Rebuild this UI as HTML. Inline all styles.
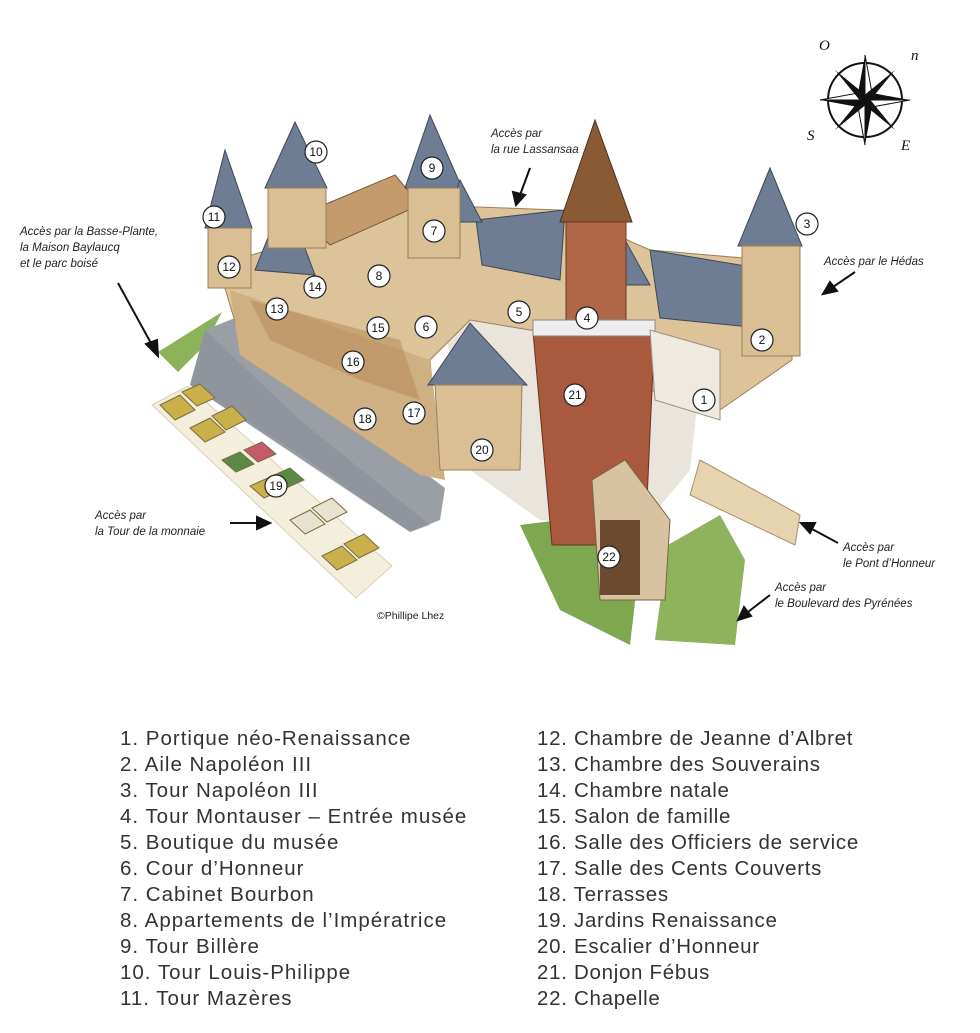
<!DOCTYPE html>
<html><head><meta charset="utf-8">
<style>
html,body{margin:0;padding:0;background:#fff;}
body{width:980px;height:1033px;position:relative;overflow:hidden;font-family:"Liberation Sans","DejaVu Sans",sans-serif;}
.leg{position:absolute;font-size:20.5px;color:#333;line-height:26px;letter-spacing:1px}
.lab{font-style:italic;font-size:11.5px;fill:#222;}
</style></head><body>
<svg width="980" height="700" style="position:absolute;left:0;top:0" xmlns="http://www.w3.org/2000/svg">
<polygon points="158,352 222,312 205,345 178,372" fill="#8db35a"/>
<polygon points="205,330 235,318 300,380 445,488 440,520 410,532 190,385" fill="#9a9fa6"/>
<polygon points="205,330 190,385 300,455 410,532 430,525 300,420" fill="#8b9097" opacity="0.6"/>
<polygon points="152,405 188,386 392,566 356,598" fill="#f4eedc" stroke="#d8cfb5"/>
<g fill="#c9b04a" stroke="#7a6d40" stroke-width="1">
<polygon points="160,405 180,395 195,410 175,420"/><polygon points="182,392 200,384 215,398 197,406"/>
<polygon points="190,428 210,418 225,432 205,442"/><polygon points="212,416 232,406 246,420 226,430"/>
<polygon points="222,460 240,452 254,464 236,472" fill="#5a8a45"/><polygon points="244,450 262,442 276,454 258,462" fill="#c45a6a"/>
<polygon points="250,486 268,478 282,490 264,498"/><polygon points="272,476 290,468 304,480 286,488" fill="#5a8a45"/>
<polygon points="290,520 310,510 325,524 305,534" fill="#e8e2d0"/><polygon points="312,508 332,498 347,512 327,522" fill="#e8e2d0"/>
<polygon points="322,556 342,546 357,560 337,570"/><polygon points="344,544 364,534 379,548 359,558"/>
</g>
<polygon points="700,460 800,515 795,545 690,495" fill="#e6d3b0" stroke="#a89070"/>
<polygon points="668,545 720,515 745,560 735,645 655,640" fill="#8fb25c"/>
<polygon points="520,525 560,520 640,560 630,645 560,610" fill="#7fa750"/>
<polygon points="440,300 560,300 700,380 690,470 640,530 540,520 470,470" fill="#e9e4dc"/>
<polygon points="218,265 420,205 560,210 650,250 790,262 792,360 720,410 650,390 560,335 470,320 430,360 440,470 360,420 245,355" fill="#dcc39a" stroke="#9c7f55"/>
<polygon points="230,290 430,360 445,480 420,475 240,355" fill="#cfb083"/>
<polygon points="250,300 400,340 420,400 360,380 270,340" fill="#b98e5e" opacity="0.6"/>
<polygon points="300,215 395,175 420,205 330,245" fill="#c49b6c" stroke="#7a5a3a"/>
<g fill="#6e7d93" stroke="#3f4857">
<polygon points="476,220 565,210 560,280 482,265"/>
<polygon points="650,250 770,270 780,330 660,318"/>
<polygon points="295,122 265,188 327,188"/>
<polygon points="225,150 205,228 252,228"/>
<polygon points="430,115 405,188 462,188"/>
<polygon points="460,180 445,222 482,222"/>
<polygon points="770,168 738,246 802,246"/>
<polygon points="285,195 255,270 315,275"/>
<polygon points="470,323 428,385 527,385"/>
<polygon points="625,240 650,285 600,285"/>
</g>
<g fill="#d9bf93" stroke="#9c7f55">
<rect x="268" y="188" width="58" height="60"/><rect x="208" y="228" width="43" height="60"/>
<rect x="408" y="188" width="52" height="70"/><rect x="742" y="246" width="58" height="110"/>
<polygon points="435,385 522,385 520,470 440,470"/>
</g>
<polygon points="595,120 560,222 632,222" fill="#8a5a35" stroke="#4a3020"/>
<rect x="566" y="222" width="60" height="105" fill="#b06748" stroke="#6a3a25"/>
<polygon points="533,332 655,322 645,545 552,545" fill="#a9593d" stroke="#6a3320"/>
<rect x="533" y="320" width="122" height="16" fill="#eee" stroke="#888"/>
<polygon points="592,480 625,460 670,520 665,600 600,600" fill="#d7c3a2" stroke="#7a6446"/>
<rect x="600" y="520" width="40" height="75" fill="#6b4a30"/>
<polygon points="650,330 720,350 720,420 655,400" fill="#efe9df" stroke="#9a9080"/>
<g font-size="12" text-anchor="middle" font-family="Liberation Sans,sans-serif" fill="#111">
<g fill="#fff" stroke="#222" stroke-width="1.2">
<circle cx="704" cy="400" r="11"/><circle cx="762" cy="340" r="11"/><circle cx="807" cy="224" r="11"/>
<circle cx="587" cy="318" r="11"/><circle cx="519" cy="312" r="11"/><circle cx="426" cy="327" r="11"/>
<circle cx="434" cy="231" r="11"/><circle cx="379" cy="276" r="11"/><circle cx="432" cy="168" r="11"/>
<circle cx="316" cy="152" r="11"/><circle cx="214" cy="217" r="11"/><circle cx="229" cy="267" r="11"/>
<circle cx="277" cy="309" r="11"/><circle cx="315" cy="287" r="11"/><circle cx="378" cy="328" r="11"/>
<circle cx="353" cy="362" r="11"/><circle cx="414" cy="413" r="11"/><circle cx="365" cy="419" r="11"/>
<circle cx="276" cy="486" r="11"/><circle cx="482" cy="450" r="11"/><circle cx="575" cy="395" r="11"/>
<circle cx="609" cy="557" r="11"/>
</g>
<text x="704" y="404">1</text><text x="762" y="344">2</text><text x="807" y="228">3</text>
<text x="587" y="322">4</text><text x="519" y="316">5</text><text x="426" y="331">6</text>
<text x="434" y="235">7</text><text x="379" y="280">8</text><text x="432" y="172">9</text>
<text x="316" y="156">10</text><text x="214" y="221">11</text><text x="229" y="271">12</text>
<text x="277" y="313">13</text><text x="315" y="291">14</text><text x="378" y="332">15</text>
<text x="353" y="366">16</text><text x="414" y="417">17</text><text x="365" y="423">18</text>
<text x="276" y="490">19</text><text x="482" y="454">20</text><text x="575" y="399">21</text>
<text x="609" y="561">22</text>
</g>
<text class="lab" x="20" y="235">Accès par la Basse-Plante,</text>
<text class="lab" x="20" y="251">la Maison Baylaucq</text>
<text class="lab" x="20" y="267">et le parc boisé</text>
<text class="lab" x="491" y="137">Accès par</text>
<text class="lab" x="491" y="153">la rue Lassansaa</text>
<text class="lab" x="824" y="265">Accès par le Hédas</text>
<text class="lab" x="95" y="519">Accès par</text>
<text class="lab" x="95" y="535">la Tour de la monnaie</text>
<text class="lab" x="843" y="551">Accès par</text>
<text class="lab" x="843" y="567">le Pont d’Honneur</text>
<text class="lab" x="775" y="591">Accès par</text>
<text class="lab" x="775" y="607">le Boulevard des Pyrénées</text>
<text x="377" y="619" font-size="10.5" fill="#222">©Phillipe Lhez</text>
<g stroke="#111" stroke-width="2" fill="#111">
<line x1="118" y1="283" x2="152" y2="345"/><polygon points="158,356 146,344 157,340"/>
<line x1="530" y1="168" x2="520" y2="195"/><polygon points="516,205 513,192 525,195"/>
<line x1="855" y1="272" x2="833" y2="287"/><polygon points="823,294 830,282 837,291"/>
<line x1="230" y1="523" x2="258" y2="523"/><polygon points="270,523 257,517 257,529"/>
<line x1="838" y1="543" x2="812" y2="529"/><polygon points="801,523 815,523 810,533"/>
<line x1="770" y1="595" x2="748" y2="612"/><polygon points="738,620 744,607 751,616"/>
</g>
<g transform="translate(865,100)">
<circle r="37" fill="none" stroke="#111" stroke-width="2"/>
<polygon points="0,-45 7,-7 45,0 7,7 0,45 -7,7 -45,0 -7,-7" fill="#111"/>
<polygon points="0,-45 7,-7 0,0" fill="#fff" stroke="#111"/>
<polygon points="45,0 7,7 0,0" fill="#fff" stroke="#111"/>
<polygon points="0,45 -7,7 0,0" fill="#fff" stroke="#111"/>
<polygon points="-45,0 -7,-7 0,0" fill="#fff" stroke="#111"/>
<polygon points="-30,-30 3,-3 -3,3" fill="#111"/><polygon points="30,30 3,-3 -3,3" fill="#111"/>
<polygon points="30,-30 3,3 -3,-3" fill="#111"/><polygon points="-30,30 3,3 -3,-3" fill="#111"/>
<g font-family="Liberation Serif,serif" font-style="italic" font-size="15" fill="#111">
<text x="-46" y="-50">O</text><text x="46" y="-40">n</text>
<text x="-58" y="40">S</text><text x="36" y="50">E</text></g>
</g>
</svg>
<div class="leg" style="left:120px;top:726px">1. Portique néo-Renaissance<br>2. Aile Napoléon III<br>3. Tour Napoléon III<br>4. Tour Montauser – Entrée musée<br>5. Boutique du musée<br>6. Cour d’Honneur<br>7. Cabinet Bourbon<br>8. Appartements de l’Impératrice<br>9. Tour Billère<br>10. Tour Louis-Philippe<br>11. Tour Mazères</div>
<div class="leg" style="left:537px;top:726px;letter-spacing:0.7px">12. Chambre de Jeanne d’Albret<br>13. Chambre des Souverains<br>14. Chambre natale<br>15. Salon de famille<br>16. Salle des Officiers de service<br>17. Salle des Cents Couverts<br>18. Terrasses<br>19. Jardins Renaissance<br>20. Escalier d’Honneur<br>21. Donjon Fébus<br>22. Chapelle</div>
</body></html>
